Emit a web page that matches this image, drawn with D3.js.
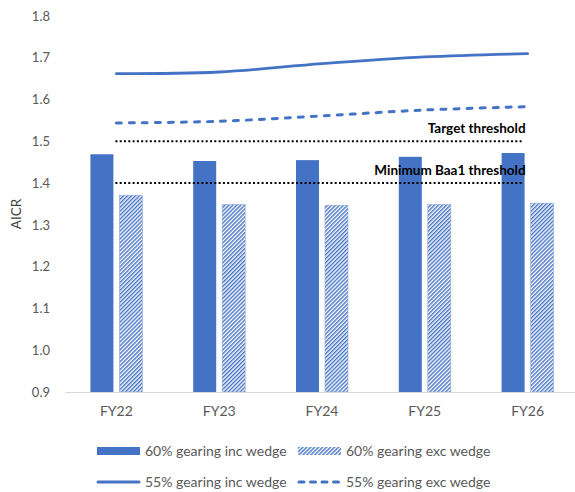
<!DOCTYPE html>
<html>
<head>
<meta charset="utf-8">
<script src="https://cdn.jsdelivr.net/npm/d3@7/dist/d3.min.js"></script>
<style>
  html, body { margin: 0; padding: 0; background: #fff; }
  svg { display: block; font-family: Lato, "Open Sans", sans-serif; }
</style>
</head>
<body>
<svg id="chart" width="575" height="492"></svg>
<script>
// Fiscal years on the category axis
const years = ["FY22", "FY23", "FY24", "FY25", "FY26"];

// Bar series (60% gearing)
const incWedge60 = [1.469, 1.453, 1.455, 1.463, 1.472];
const excWedge60 = [1.371, 1.349, 1.347, 1.349, 1.352];

// Line series (55% gearing)
const incWedge55 = [1.662, 1.666, 1.686, 1.702, 1.710];
const excWedge55 = [1.544, 1.548, 1.561, 1.575, 1.583];

// Rating thresholds
const thresholds = [
  { label: "Target threshold", value: 1.5 },
  { label: "Minimum Baa1 threshold", value: 1.4 }
];

// Value-axis ticks
const yTicks = [0.9, 1.0, 1.1, 1.2, 1.3, 1.4, 1.5, 1.6, 1.7, 1.8];

const blue = "#4472C4";
const grey = "#595959";

const svg = d3.select("#chart");

const x = d3.scaleBand().domain(years).range([65, 579]).padding(0);
const y = d3.scaleLinear().domain([0.9, 1.8]).range([392, 16]);

// Hatch fill for the "exc wedge" bars
const defs = svg.append("defs");
const pat = defs.append("pattern")
  .attr("id", "hatch")
  .attr("patternUnits", "userSpaceOnUse")
  .attr("width", 2.8)
  .attr("height", 2.8)
  .attr("patternTransform", "rotate(45)");
pat.append("rect").attr("width", 2.8).attr("height", 2.8).attr("fill", "#fff");
pat.append("rect").attr("x", 0).attr("y", 0).attr("width", 1.4).attr("height", 2.8).attr("fill", blue);

// Y axis labels
const yAxis = d3.axisLeft(y).tickValues(yTicks).tickFormat(d3.format(".1f")).tickSize(0).tickPadding(15);
const yg = svg.append("g").attr("transform", "translate(65,0)").call(yAxis);
yg.select(".domain").remove();
yg.selectAll("text").attr("fill", grey).style("font-size", "13px").style("font-family", "Lato, sans-serif");

// Axis title
svg.append("text")
  .attr("transform", "translate(21,214) rotate(-90)")
  .attr("text-anchor", "middle")
  .attr("fill", "#404040")
  .style("font-size", "13.5px")
  .text("AICR");

// Bars
const barW = 23, gap = 6;
const groups = svg.append("g").selectAll("g").data(years).join("g")
  .attr("transform", d => `translate(${x(d) + x.bandwidth() / 2},0)`);

groups.append("rect")
  .attr("x", -gap / 2 - barW)
  .attr("width", barW)
  .attr("y", (d, i) => y(incWedge60[i]))
  .attr("height", (d, i) => y(0.9) - y(incWedge60[i]))
  .attr("fill", blue);

groups.append("rect")
  .attr("x", gap / 2)
  .attr("width", barW)
  .attr("y", (d, i) => y(excWedge60[i]))
  .attr("height", (d, i) => y(0.9) - y(excWedge60[i]))
  .attr("fill", "url(#hatch)")
  .attr("stroke", "#8faadc")
  .attr("stroke-width", 0.6);

// Category axis
const xAxis = d3.axisBottom(x).tickSize(0).tickPadding(14);
const xg = svg.append("g").attr("transform", `translate(0,${y(0.9)})`).call(xAxis);
xg.select(".domain").attr("stroke", "#d9d9d9").attr("stroke-width", 1);
xg.selectAll("text").attr("fill", grey).style("font-size", "14px").style("font-family", "Lato, sans-serif");

const cx = d => x(d) + x.bandwidth() / 2;

// Threshold lines and labels
thresholds.forEach(t => {
  svg.append("line")
    .attr("x1", cx(years[0]) - 1)
    .attr("x2", cx(years[years.length - 1]) - 5)
    .attr("y1", y(t.value))
    .attr("y2", y(t.value))
    .attr("stroke", "#000")
    .attr("stroke-width", 2)
    .attr("stroke-dasharray", "2,2.3");
  svg.append("text")
    .attr("x", cx(years[years.length - 1]) - 2)
    .attr("y", y(t.value) - 8)
    .attr("text-anchor", "end")
    .attr("fill", "#000")
    .style("font-size", "13.5px")
    .style("font-weight", "bold")
    .text(t.label);
});

// Smoothed line series
const line = d3.line()
  .x((d, i) => cx(years[i]))
  .y(d => y(d))
  .curve(d3.curveCatmullRom.alpha(0.5));

svg.append("path")
  .datum(incWedge55)
  .attr("d", line)
  .attr("fill", "none")
  .attr("stroke", blue)
  .attr("stroke-width", 2.8)
  .attr("stroke-linecap", "round");

svg.append("path")
  .datum(excWedge55)
  .attr("d", line)
  .attr("fill", "none")
  .attr("stroke", blue)
  .attr("stroke-width", 3)
  .attr("stroke-linecap", "round")
  .attr("stroke-dasharray", "5,8");

// Legend
const legendItems = [
  { name: "60% gearing inc wedge", kind: "bar", col: 0, row: 0 },
  { name: "60% gearing exc wedge", kind: "hatch", col: 1, row: 0 },
  { name: "55% gearing inc wedge", kind: "line", col: 0, row: 1 },
  { name: "55% gearing exc wedge", kind: "dash", col: 1, row: 1 }
];
const colX = [97, 298];
const rowY = [451, 482];

const lg = svg.append("g").selectAll("g").data(legendItems).join("g")
  .attr("transform", d => `translate(${colX[d.col]},${rowY[d.row]})`);

lg.each(function(d) {
  const g = d3.select(this);
  if (d.kind === "bar" || d.kind === "hatch") {
    g.append("rect")
      .attr("x", 0).attr("y", -4)
      .attr("width", 43).attr("height", 8)
      .attr("fill", d.kind === "bar" ? blue : "url(#hatch)");
  } else {
    g.append("line")
      .attr("x1", 1).attr("x2", 42)
      .attr("y1", 0).attr("y2", 0)
      .attr("stroke", blue)
      .attr("stroke-width", 3)
      .attr("stroke-linecap", "round")
      .attr("stroke-dasharray", d.kind === "dash" ? "5,6.5" : null);
  }
  g.append("text")
    .attr("x", 48)
    .attr("y", 0)
    .attr("dy", "0.35em")
    .attr("fill", grey)
    .style("font-size", "14px")
    .text(d.name);
});
</script>
</body>
</html>
